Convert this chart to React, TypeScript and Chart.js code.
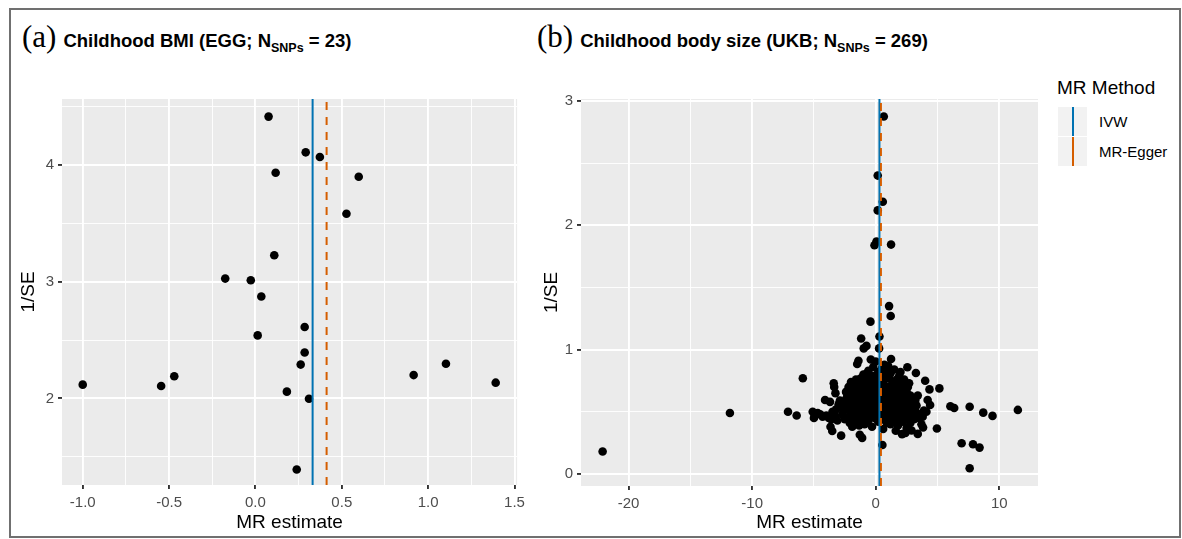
import React, { useEffect, useRef } from 'react';
import { Chart, registerables } from 'chart.js';

Chart.register(...registerables);

// ---------- Panel (a): Childhood BMI (EGG) ----------
const bmiPoints: [number, number][] = [
  [0.076, 4.415], [0.291, 4.109], [0.373, 4.069], [0.117, 3.934], [0.598, 3.9],
  [0.527, 3.582], [0.109, 3.227], [-0.175, 3.027], [-0.027, 3.013], [0.034, 2.873],
  [0.285, 2.612], [0.013, 2.54], [0.285, 2.394], [0.262, 2.29], [1.103, 2.297],
  [-0.47, 2.19], [0.916, 2.2], [-1.0, 2.118], [-0.546, 2.107], [1.391, 2.135],
  [0.182, 2.058], [0.31, 1.997], [0.239, 1.391],
];
const bmiIVW = 0.331;
const bmiEgger = 0.412;
const bmiXRange: [number, number] = [-1.12, 1.515];
const bmiYRange: [number, number] = [1.258, 4.566];
const bmiXMajor = [-1.0, -0.5, 0, 0.5, 1.0, 1.5];
const bmiXMinor = [-0.75, -0.25, 0.25, 0.75, 1.25];
const bmiYMajor = [2, 3, 4];
const bmiYMinor = [1.5, 2.5, 3.5, 4.5];

// ---------- Panel (b): Childhood body size (UKB) ----------
const sizePoints: [number, number][] = [
  [-22.1, 0.18], [-11.8, 0.49], [-7.1, 0.5], [-6.4, 0.47], [-5.9, 0.77],
  [0.65, 2.875], [0.16, 2.4], [0.57, 2.19], [0.16, 2.12], [-0.1, 1.84],
  [0.06, 1.87], [1.24, 1.845], [1.08, 1.35], [1.21, 1.27], [-0.43, 1.225],
  [-1.18, 1.09], [0.3, 1.105], [-0.75, 1.03], [-0.97, 1.01], [0.27, 1.01],
  [-1.4, 0.91], [-1.5, 0.885], [0.0, 0.905], [1.24, 0.925], [0.7, 0.877],
  [0.92, 0.84], [2.56, 0.858], [3.25, 0.812], [4.0, 0.75], [4.35, 0.68],
  [5.15, 0.688], [-3.4, 0.73], [-3.36, 0.7], [-4.1, 0.595], [-3.26, 0.65],
  [4.4, 0.555], [6.04, 0.545], [6.35, 0.53], [7.6, 0.54], [8.7, 0.493],
  [9.45, 0.467], [11.5, 0.515], [4.95, 0.365], [-3.66, 0.38], [-3.52, 0.345],
  [-2.8, 0.308], [-1.29, 0.315], [-1.1, 0.29], [-1.34, 0.39], [0.6, 0.362],
  [0.54, 0.233], [1.62, 0.348], [2.13, 0.32], [3.4, 0.322], [3.83, 0.373],
  [6.95, 0.247], [7.87, 0.239], [8.4, 0.212], [7.6, 0.046], [1.19, 0.4],
  [-5.1, 0.5], [-4.95, 0.47], [-5.0, 0.45], [-4.7, 0.49], [-4.5, 0.48],
  [-4.3, 0.46], [-4.0, 0.47], [-3.8, 0.45], [-3.6, 0.44], [-3.5, 0.5],
  [-3.3, 0.47], [-3.2, 0.52], [-3.0, 0.56], [-2.9, 0.59], [-2.8, 0.54],
  [-2.7, 0.48], [-2.6, 0.51], [-2.5, 0.44], [-3.1, 0.43], [-2.4, 0.6],
  [-3.7, 0.58], [-2.3, 0.52], [-2.1, 0.41], [-1.9, 0.38], [-1.7, 0.44],
  [-1.5, 0.42], [-0.9, 0.4], [-0.6, 0.43], [-0.3, 0.38], [0.2, 0.42],
  [0.5, 0.44], [0.9, 0.41], [1.4, 0.43], [1.8, 0.39], [2.2, 0.42],
  [2.5, 0.37], [2.8, 0.41], [3.1, 0.44], [3.5, 0.45], [3.7, 0.4],
  [-2.2, 0.46], [2.9, 0.35], [2.4, 0.33], [2.6, 0.7], [2.7, 0.73],
  [2.5, 0.66], [3.0, 0.61], [3.2, 0.59], [3.3, 0.55], [3.6, 0.48],
  [3.8, 0.46], [3.9, 0.51], [4.1, 0.5], [3.4, 0.63], [2.9, 0.52],
  [2.3, 0.76], [2.45, 0.73], [2.1, 0.69], [4.2, 0.595], [-0.2, 0.86],
  [0.5, 0.85], [1.0, 0.87], [-0.6, 0.83], [0.2, 0.82], [1.5, 0.84],
  [-1.0, 0.8], [0.8, 0.8], [1.9, 0.79], [-0.3, 0.79], [-1.6, 0.76],
  [-1.2, 0.77], [-0.8, 0.75], [-0.4, 0.76], [0.1, 0.77], [0.4, 0.75],
  [0.7, 0.76], [1.1, 0.77], [1.4, 0.74], [1.7, 0.76], [2.0, 0.75],
  [-2.0, 0.74], [-2.2, 0.7], [-1.8, 0.72], [-1.4, 0.71], [-1.0, 0.73],
  [-0.6, 0.7], [-0.2, 0.72], [0.3, 0.71], [0.6, 0.73], [0.9, 0.7],
  [1.3, 0.72], [1.6, 0.7], [1.9, 0.71], [2.2, 0.72], [-0.9, 0.68],
  [-2.4, 0.66], [-2.0, 0.67], [-1.7, 0.65], [-1.3, 0.66], [-0.7, 0.67],
  [-0.4, 0.65], [0.0, 0.66], [0.4, 0.67], [0.8, 0.65], [1.1, 0.66],
  [1.5, 0.67], [1.8, 0.65], [2.1, 0.64], [2.4, 0.62], [-2.1, 0.61],
  [-1.8, 0.62], [-1.5, 0.6], [-1.1, 0.62], [-0.8, 0.61], [-0.5, 0.63],
  [-0.1, 0.6], [0.2, 0.62], [0.6, 0.61], [1.0, 0.63], [1.3, 0.6],
  [1.7, 0.62], [2.0, 0.6], [2.6, 0.61], [2.8, 0.63], [-2.2, 0.56],
  [-1.9, 0.57], [-1.6, 0.55], [-1.3, 0.58], [-1.0, 0.56], [-0.7, 0.57],
  [-0.3, 0.55], [0.0, 0.58], [0.3, 0.56], [0.7, 0.57], [1.0, 0.55],
  [1.4, 0.57], [1.7, 0.56], [2.1, 0.58], [2.4, 0.55], [2.7, 0.57],
  [3.1, 0.56], [-2.0, 0.52], [-1.7, 0.5], [-1.4, 0.53], [-1.1, 0.51],
  [-0.8, 0.52], [-0.5, 0.5], [-0.2, 0.53], [0.1, 0.51], [0.5, 0.52],
  [0.8, 0.5], [1.2, 0.53], [1.5, 0.51], [1.9, 0.52], [2.2, 0.5],
  [2.5, 0.52], [2.8, 0.49], [3.2, 0.51], [-1.9, 0.47], [-1.6, 0.46],
  [-1.2, 0.48], [-0.9, 0.46], [-0.4, 0.47], [-0.1, 0.45], [0.3, 0.47],
  [0.7, 0.46], [1.0, 0.48], [1.3, 0.46], [1.7, 0.47], [2.0, 0.45],
  [2.4, 0.47], [3.0, 0.46], [3.4, 0.48], [-0.5, 0.58], [0.5, 0.59],
  [1.2, 0.64], [-1.2, 0.64], [0.1, 0.69], [-0.3, 0.68], [0.6, 0.55],
  [1.6, 0.53], [-1.5, 0.51], [-0.6, 0.54], [0.9, 0.6], [2.3, 0.67],
  [-2.3, 0.63], [0.4, 0.49], [-0.2, 0.49], [1.9, 0.49], [-1.0, 0.44],
  [0.8, 0.43], [1.1, 0.58], [-0.9, 0.59], [0.2, 0.64], [-1.6, 0.69],
  [1.4, 0.69], [-0.1, 0.74], [0.5, 0.79], [1.2, 0.81], [-0.7, 0.81],
  [1.6, 0.6], [2.6, 0.44], [-2.6, 0.57], [-1.3, 0.43], [0.0, 0.53],
  [1.8, 0.43], [-2.0, 0.43], [2.0, 0.82], [-0.4, 0.92],
];
const sizeIVW = 0.3;
const sizeEgger = 0.42;
const sizeXRange: [number, number] = [-23.85, 13.13];
const sizeYRange: [number, number] = [-0.097, 3.016];
const sizeXMajor = [-20, -10, 0, 10];
const sizeXMinor = [-15, -5, 5];
const sizeYMajor = [0, 1, 2, 3];
const sizeYMinor = [0.5, 1.5, 2.5];

const methodLabels = ['IVW', 'MR-Egger'];
const methodColors = ['#0072B2', '#D55E00'];

const SANS = '"Liberation Sans", Arial, Helvetica, sans-serif';
const SERIF = '"Liberation Serif", "Times New Roman", serif';

type PanelProps = {
  points: [number, number][];
  ivw: number;
  egger: number;
  xRange: [number, number];
  yRange: [number, number];
  xMajor: number[];
  xMinor: number[];
  yMajor: number[];
  yMinor: number[];
  xDecimals: number;
  left: number;
  width: number;
  yAxisWidth: number;
  padRight: number;
  xAxisHeight: number;
  yTitlePad: number;
};

const panelBg = {
  id: 'panelBg',
  beforeDraw(chart: any) {
    const { ctx, chartArea: a } = chart;
    ctx.save();
    ctx.fillStyle = '#EBEBEB';
    ctx.fillRect(a.left, a.top, a.right - a.left, a.bottom - a.top);
    ctx.restore();
  },
};

function Panel(p: PanelProps) {
  const ref = useRef<HTMLCanvasElement>(null);
  useEffect(() => {
    if (!ref.current) return;
    const near = (arr: number[], v: number) => arr.some((m) => Math.abs(m - v) < 1e-9);
    const gridWidth = (major: number[]) => (ctx: any) =>
      ctx.tick && near(major, ctx.tick.value) ? 1.9 : 0.9;
    const tickColor = (major: number[]) => (ctx: any) =>
      ctx.tick && near(major, ctx.tick.value) ? '#333333' : 'rgba(0,0,0,0)';
    const allX = [...p.xMajor, ...p.xMinor].sort((a, b) => a - b);
    const allY = [...p.yMajor, ...p.yMinor].sort((a, b) => a - b);
    const chart = new Chart(ref.current, {
      type: 'scatter',
      data: {
        datasets: [
          {
            type: 'line',
            label: 'MR-Egger',
            data: [
              { x: p.egger, y: p.yRange[0] },
              { x: p.egger, y: p.yRange[1] },
            ],
            borderColor: methodColors[1],
            borderWidth: 2,
            borderDash: [8, 7],
            pointRadius: 0,
            order: 0,
          } as any,
          {
            type: 'line',
            label: 'IVW',
            data: [
              { x: p.ivw, y: p.yRange[0] },
              { x: p.ivw, y: p.yRange[1] },
            ],
            borderColor: methodColors[0],
            borderWidth: 2,
            pointRadius: 0,
            order: 1,
          } as any,
          {
            label: 'SNPs',
            data: p.points.map(([x, y]) => ({ x, y })),
            backgroundColor: '#000000',
            borderWidth: 0,
            pointRadius: 4.3,
            order: 2,
          },
        ],
      },
      options: {
        animation: false,
        responsive: false,
        maintainAspectRatio: false,
        events: [],
        layout: { padding: { left: 0, right: p.padRight, top: 19, bottom: 0 } },
        plugins: { legend: { display: false }, tooltip: { enabled: false }, title: { display: false } },
        scales: {
          x: {
            type: 'linear',
            min: p.xRange[0],
            max: p.xRange[1],
            afterBuildTicks: (axis: any) => {
              axis.ticks = allX.map((v) => ({ value: v }));
            },
            afterFit: (axis: any) => {
              axis.height = p.xAxisHeight;
            },
            border: { display: false },
            grid: {
              color: '#FFFFFF',
              lineWidth: gridWidth(p.xMajor),
              tickColor: tickColor(p.xMajor),
              tickLength: 4,
              drawTicks: true,
            },
            ticks: {
              autoSkip: false,
              maxRotation: 0,
              padding: 5,
              color: '#4D4D4D',
              font: { family: SANS, size: 15 },
              callback: (v: any) => (near(p.xMajor, Number(v)) ? Number(v).toFixed(p.xDecimals) : ''),
            },
            title: {
              display: true,
              text: 'MR estimate',
              color: '#000000',
              font: { family: SANS, size: 19 },
              padding: { top: 0, bottom: 5 },
            },
          },
          y: {
            type: 'linear',
            min: p.yRange[0],
            max: p.yRange[1],
            afterBuildTicks: (axis: any) => {
              axis.ticks = allY.map((v) => ({ value: v }));
            },
            afterFit: (axis: any) => {
              axis.width = p.yAxisWidth;
            },
            border: { display: false },
            grid: {
              color: '#FFFFFF',
              lineWidth: gridWidth(p.yMajor),
              tickColor: tickColor(p.yMajor),
              tickLength: 4,
              drawTicks: true,
            },
            ticks: {
              autoSkip: false,
              padding: 4,
              color: '#4D4D4D',
              font: { family: SANS, size: 15 },
              callback: (v: any) => (near(p.yMajor, Number(v)) ? String(Number(v)) : ''),
            },
            title: {
              display: true,
              text: '1/SE',
              color: '#000000',
              font: { family: SANS, size: 19 },
              padding: { top: p.yTitlePad, bottom: 0 },
            },
          },
        },
      } as any,
      plugins: [panelBg],
    });
    return () => chart.destroy();
  }, []);
  return (
    <canvas
      ref={ref}
      width={p.width}
      height={459}
      style={{ position: 'absolute', left: p.left, top: 80, width: p.width, height: 459 }}
    />
  );
}

function PanelTitle({ left, tag, text, n }: { left: number; tag: string; text: string; n: number }) {
  return (
    <div
      style={{
        position: 'absolute',
        left,
        top: 21,
        display: 'flex',
        alignItems: 'baseline',
        whiteSpace: 'nowrap',
        lineHeight: '32px',
      }}
    >
      <span style={{ fontFamily: SERIF, fontSize: 31, color: '#000' }}>{tag}</span>
      <span style={{ fontFamily: SANS, fontWeight: 'bold', fontSize: 18.5, marginLeft: 7, color: '#000' }}>
        {text}N
        <sub style={{ fontSize: 12.5, verticalAlign: '-5px', lineHeight: 0 }}>SNPs</sub>
        {' = ' + n + ')'}
      </span>
    </div>
  );
}

export default function App() {
  return (
    <div style={{ position: 'fixed', left: 0, top: 0, width: 1182, height: 539, background: '#fff', overflow: 'hidden' }}>
      <div
        style={{
          position: 'absolute',
          left: 9,
          top: 8,
          width: 1172,
          height: 530,
          border: '2px solid #707070',
          boxSizing: 'border-box',
        }}
      />
      <PanelTitle left={22} tag="(a)" text="Childhood BMI (EGG; " n={23} />
      <PanelTitle left={537} tag="(b)" text="Childhood body size (UKB; " n={269} />
      <Panel
        points={bmiPoints}
        ivw={bmiIVW}
        egger={bmiEgger}
        xRange={bmiXRange}
        yRange={bmiYRange}
        xMajor={bmiXMajor}
        xMinor={bmiXMinor}
        yMajor={bmiYMajor}
        yMinor={bmiYMinor}
        xDecimals={1}
        left={0}
        width={530}
        yAxisWidth={62}
        padRight={10}
        xAxisHeight={54}
        yTitlePad={17}
      />
      <Panel
        points={sizePoints}
        ivw={sizeIVW}
        egger={sizeEgger}
        xRange={sizeXRange}
        yRange={sizeYRange}
        xMajor={sizeXMajor}
        xMinor={sizeXMinor}
        yMajor={sizeYMajor}
        yMinor={sizeYMinor}
        xDecimals={0}
        left={530}
        width={515}
        yAxisWidth={51}
        padRight={7}
        xAxisHeight={53}
        yTitlePad={10}
      />
      {/* Legend */}
      <div style={{ position: 'absolute', left: 1057, top: 76, fontFamily: SANS, fontSize: 19, color: '#000', lineHeight: '24px' }}>
        MR Method
      </div>
      {methodLabels.map((lab, i) => (
        <React.Fragment key={lab}>
          <div
            style={{
              position: 'absolute',
              left: 1058,
              top: 107 + i * 30,
              width: 29,
              height: 29,
              background: '#F2F2F2',
            }}
          >
            <div
              style={{
                position: 'absolute',
                left: 13.5,
                top: 0,
                width: 2,
                height: 29,
                background: methodColors[i],
              }}
            />
          </div>
          <div
            style={{
              position: 'absolute',
              left: 1099,
              top: 112 + i * 30,
              fontFamily: SANS,
              fontSize: 15,
              color: '#000',
              lineHeight: '20px',
            }}
          >
            {lab}
          </div>
        </React.Fragment>
      ))}
    </div>
  );
}
